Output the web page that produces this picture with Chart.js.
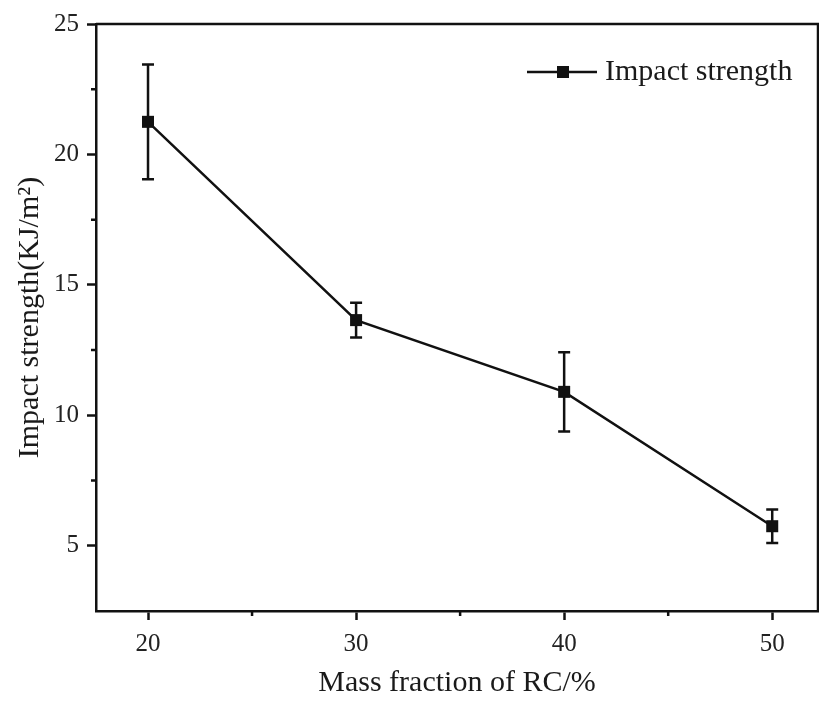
<!DOCTYPE html>
<html>
<head>
<meta charset="utf-8">
<script src="https://cdn.jsdelivr.net/npm/chart.js@4.4.0/dist/chart.umd.min.js"></script>
<style>
  html, body { margin: 0; padding: 0; background: #fff; overflow: hidden; }
  #wrap { width: 819px; height: 702px; }
</style>
</head>
<body>
<div id="wrap"><canvas id="impactChart"></canvas></div>
<script>
const massFraction = [20, 30, 40, 50];
const impactStrength = [21.25, 13.65, 10.9, 5.75];
const impactError = [2.2, 0.67, 1.52, 0.64];
const seriesLabel = "Impact strength";
const xTicks = [20, 30, 40, 50];
const xMinorTicks = [25, 35, 45];
const yTicks = [5, 10, 15, 20, 25];
const yMinorTicks = [7.5, 12.5, 17.5, 22.5];

const ink = "#111";
const serif = "'Liberation Serif', 'Times New Roman', serif";

const errorBars = {
  id: "errorBars",
  beforeDatasetsDraw(chart) {
    const { ctx, scales } = chart;
    ctx.save();
    ctx.strokeStyle = ink;
    ctx.lineWidth = 2.5;
    massFraction.forEach((x, i) => {
      const px = scales.x.getPixelForValue(x);
      const top = scales.y.getPixelForValue(impactStrength[i] + impactError[i]);
      const bottom = scales.y.getPixelForValue(impactStrength[i] - impactError[i]);
      ctx.beginPath();
      ctx.moveTo(px, top);
      ctx.lineTo(px, bottom);
      ctx.moveTo(px - 6, top);
      ctx.lineTo(px + 6, top);
      ctx.moveTo(px - 6, bottom);
      ctx.lineTo(px + 6, bottom);
      ctx.stroke();
    });
    ctx.restore();
  },
};

const frameAndLegend = {
  id: "frameAndLegend",
  afterDraw(chart) {
    const { ctx, chartArea, scales } = chart;
    const { left, right, top, bottom } = chartArea;
    ctx.save();
    ctx.strokeStyle = ink;
    ctx.lineWidth = 2.5;
    ctx.beginPath();
    ctx.moveTo(left, top);
    ctx.lineTo(right, top);
    ctx.lineTo(right, bottom);
    ctx.stroke();

    // minor ticks
    ctx.beginPath();
    for (const v of yMinorTicks) {
      const py = scales.y.getPixelForValue(v);
      ctx.moveTo(left, py);
      ctx.lineTo(left - 5, py);
    }
    for (const v of xMinorTicks) {
      const px = scales.x.getPixelForValue(v);
      ctx.moveTo(px, bottom);
      ctx.lineTo(px, bottom + 5);
    }
    ctx.stroke();

    // legend
    const lx = right - 291;
    const ly = top + 48;
    ctx.beginPath();
    ctx.moveTo(lx, ly);
    ctx.lineTo(lx + 70, ly);
    ctx.stroke();
    ctx.fillStyle = ink;
    ctx.fillRect(lx + 30, ly - 6, 12, 12);
    ctx.fillStyle = "#1a1a1a";
    ctx.font = "30px " + serif;
    ctx.textBaseline = "middle";
    ctx.textAlign = "left";
    ctx.fillText(seriesLabel, lx + 78, ly);
    ctx.restore();
  },
};

new Chart(document.getElementById("impactChart"), {
  type: "line",
  data: {
    datasets: [
      {
        label: seriesLabel,
        data: massFraction.map((x, i) => ({ x: x, y: impactStrength[i] })),
        borderColor: ink,
        backgroundColor: ink,
        borderWidth: 2.5,
        pointStyle: "rect",
        pointRadius: 8.5,
        pointHoverRadius: 8.5,
        pointBorderWidth: 0,
        tension: 0,
      },
    ],
  },
  options: {
    responsive: true,
    maintainAspectRatio: false,
    animation: false,
    layout: {
      autoPadding: false,
      padding: { left: 0, right: 1, top: 24, bottom: 0 },
    },
    plugins: {
      legend: { display: false },
      tooltip: { enabled: false },
    },
    scales: {
      x: {
        type: "linear",
        min: 17.5,
        max: 52.2,
        afterBuildTicks: (scale) => {
          scale.ticks = xTicks.map((v) => ({ value: v }));
        },
        afterFit: (scale) => {
          scale.height = 91;
          scale.paddingLeft = 0;
          scale.paddingRight = 0;
        },
        border: { display: true, color: ink, width: 2.5 },
        grid: {
          drawOnChartArea: false,
          drawTicks: true,
          tickLength: 9,
          tickColor: ink,
          tickWidth: 2.5,
        },
        ticks: {
          color: "#222",
          padding: 9,
          font: { family: serif, size: 25 },
        },
        title: {
          display: true,
          text: "Mass fraction of RC/%",
          color: "#1a1a1a",
          padding: { top: 0, bottom: 1 },
          font: { family: serif, size: 30 },
        },
      },
      y: {
        type: "linear",
        min: 2.5,
        max: 25,
        afterBuildTicks: (scale) => {
          scale.ticks = yTicks.map((v) => ({ value: v }));
        },
        afterFit: (scale) => {
          scale.width = 96;
          scale.paddingTop = 0;
          scale.paddingBottom = 0;
        },
        border: { display: true, color: ink, width: 2.5 },
        grid: {
          drawOnChartArea: false,
          drawTicks: true,
          tickLength: 9,
          tickColor: ink,
          tickWidth: 2.5,
        },
        ticks: {
          color: "#222",
          padding: 8,
          font: { family: serif, size: 25 },
        },
        title: {
          display: true,
          text: "Impact strength(KJ/m²)",
          color: "#1a1a1a",
          padding: { top: 12, bottom: 0 },
          font: { family: serif, size: 30 },
        },
      },
    },
  },
  plugins: [errorBars, frameAndLegend],
});
</script>
</body>
</html>
